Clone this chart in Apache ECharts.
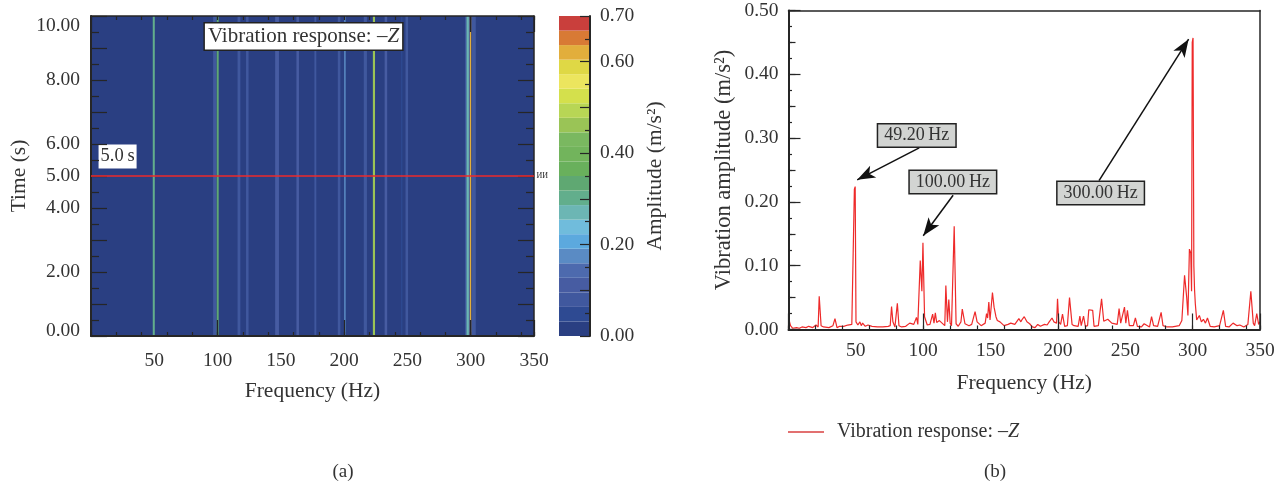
<!DOCTYPE html>
<html><head><meta charset="utf-8">
<style>html,body{margin:0;padding:0;background:#fff}#c{width:1287px;height:482px}</style>
<script src="https://cdn.jsdelivr.net/npm/echarts@6/dist/echarts.min.js"></script>
</head><body><div id="c"></div>
<script>
// ---- data ----
const bandColors = ['#2a3f82','#2e4a92','#40589e','#475ca2','#4d6aae','#5a8bc4','#5ca9de','#70bcdc','#6cb6b4','#62ae8c','#5fa872','#69b05c','#72b45c','#7ab860','#9ac456','#b8d655','#d4e04c','#ece55e','#dfd845','#e2ae3c','#d87a35','#c93f3c'];
const ampMax = 0.7;
const stripeLow  = [0,48.8,96.5,99.3,115.8,122.5,145.5,162.3,176.5,195,200,215.5,222.7,232,245,248.5,295.5,296.6,298.6,299.3,301];
const stripeHigh = [350,50.4,99,100.9,118,124.5,148.5,164.3,178,197,201.2,218,224.4,234,246,250.5,296.5,298.6,299.3,300.4,304];
const stripeAmp  = [0.01,0.3,0.085,0.33,0.08,0.08,0.1,0.1,0.07,0.07,0.17,0.07,0.47,0.1,0.05,0.09,0.09,0.26,0.1,0.62,0.09];
const cursorTime = 5;
const spectrumPoints = [[0,0.003],[0.4,0.015],[1.5,0.006],[3,0.002],[6,0.003],[8,0.002],[10,0.004],[13,0.003],[15,0.005],[18,0.003],[20.4,0.007],[22,0.004],[22.8,0.052],[23.4,0.05],[24.2,0.006],[26,0.004],[30,0.003],[33,0.006],[34.5,0.017],[36,0.003],[38,0.005],[41,0.005],[44,0.007],[47,0.008],[48.4,0.01],[48.9,0.22],[49.5,0.224],[50.1,0.012],[51.5,0.007],[53,0.012],[54,0.006],[55,0.01],[57,0.005],[59,0.007],[60,0.004],[62,0.005],[66,0.004],[70,0.004],[74,0.005],[75.5,0.006],[76.5,0.036],[77.5,0.012],[79,0.004],[80.8,0.041],[81.3,0.04],[82,0.006],[84,0.004],[87,0.005],[90,0.01],[93,0.008],[95,0.019],[96,0.008],[97,0.005],[97.8,0.108],[98.4,0.106],[99,0.06],[99.8,0.136],[100.2,0.134],[101,0.02],[103,0.007],[105,0.008],[107,0.024],[108,0.01],[109,0.026],[110,0.011],[112,0.014],[114,0.01],[116,0.006],[116.8,0.069],[117.3,0.066],[118,0.012],[119,0.047],[120,0.01],[121,0.006],[122.4,0.008],[123,0.162],[123.6,0.16],[124.4,0.009],[126,0.005],[128,0.012],[129,0.032],[131,0.009],[134,0.006],[136,0.008],[138.5,0.028],[140,0.012],[143,0.006],[146,0.01],[147,0.025],[147.8,0.018],[148.7,0.043],[149.6,0.015],[151.4,0.058],[152.6,0.035],[154,0.02],[155,0.014],[157,0.012],[160,0.006],[163,0.008],[165,0.01],[168,0.008],[171,0.017],[172.5,0.012],[173.5,0.016],[175,0.02],[177,0.012],[179,0.009],[181,0.004],[183,0.003],[185,0.008],[187,0.005],[190,0.008],[192,0.007],[193.5,0.012],[195.6,0.018],[197,0.012],[199,0.01],[199.7,0.048],[200.6,0.012],[202,0.008],[203.4,0.024],[205,0.005],[207,0.006],[208.6,0.05],[209.4,0.053],[210.5,0.008],[212,0.006],[215,0.005],[216.3,0.021],[217.3,0.006],[219,0.021],[220.4,0.005],[222,0.006],[222.9,0.031],[225.8,0.03],[226.8,0.005],[230,0.006],[232.4,0.048],[234,0.013],[237,0.016],[240,0.01],[244,0.008],[245.4,0.033],[246.6,0.01],[248,0.009],[249.4,0.035],[250.4,0.01],[251.6,0.03],[253,0.006],[256,0.006],[257.5,0.018],[259,0.005],[262,0.004],[264,0.009],[268,0.004],[269.5,0.02],[271,0.006],[274,0.005],[276.6,0.027],[278,0.006],[281,0.004],[285,0.004],[290,0.006],[292,0.014],[294,0.085],[295.6,0.05],[296.5,0.022],[297.6,0.126],[298.6,0.12],[299.2,0.06],[299.7,0.45],[300.3,0.457],[300.9,0.1],[301.4,0.063],[302,0.04],[303,0.015],[305,0.022],[306.5,0.012],[308,0.016],[309.5,0.01],[311,0.018],[313,0.005],[316,0.004],[320,0.006],[322.8,0.03],[323.6,0.03],[324.5,0.005],[327,0.004],[330,0.01],[333,0.006],[335,0.007],[338,0.004],[341,0.008],[343.2,0.06],[343.9,0.058],[345,0.01],[346,0.006],[347.6,0.025],[349,0.008],[350,0.012]];
const callText = ['49.20\u2009Hz','100.00\u2009Hz','300.00\u2009Hz'];
const callBox  = [[95.2,0.304],[122,0.231],[231.7,0.2138]];
const callFrom = [[97,0.2848],[122.2,0.2104],[230.5,0.2335]];
const callTip  = [[51,0.2346],[100,0.147],[297,0.455]];
const timeTicks = [0,2,4,5,6,8,10];
const ampTicks = [0,0.2,0.4,0.6,0.7];

// ---- presentation ----
const serif = 'Liberation Serif', ink = '#333333', tickC = '#262626';
const off = {show:false,onZero:false};
const base = {type:'value', z:10, axisLine:off, axisTick:{show:false}, axisLabel:{show:false}, splitLine:{show:false}};
const mk = (o)=>Object.assign({}, base, o);
const line = (w)=>({show:true,onZero:false,lineStyle:{color:tickC,width:w}});
const tick = (len,w)=>({show:true,inside:true,length:len,lineStyle:{color:tickC,width:w||1.2}});
const minor = (n,len)=>({show:true,splitNumber:n,length:len,lineStyle:{color:tickC,width:1.2}});
const lab = (o)=>Object.assign({show:true,color:ink,fontFamily:serif,fontSize:19.5},o);
const nm = {color:ink,fontFamily:serif,fontSize:21.5};
const xTicksLabel = (margin,name,gap)=>mk({min:0,max:350,interval:50,position:'bottom',
  axisLabel:lab({margin,formatter:v=>(v>0?String(v):'')}),name,nameLocation:'middle',nameGap:gap,nameTextStyle:nm});

function bandColor(a){return bandColors[Math.min(bandColors.length-1,Math.floor(a/ampMax*bandColors.length))];}
function rectItem(x0,y0,x1,y1,api,fill){
  const a=api.coord([x0,y0]), b=api.coord([x1,y1]);
  return {type:'rect',shape:{x:a[0],y:b[1],width:b[0]-a[0],height:a[1]-b[1]},style:{fill}};
}
const heatData = stripeLow.map((l,i)=>[l,stripeHigh[i],stripeAmp[i]]);
const barData = bandColors.map((c,i)=>[i*ampMax/bandColors.length,(i+1)*ampMax/bandColors.length,i]);
const boxLabel = (fs,bg,bw,pad,o)=>Object.assign({show:true,position:'inside',color:ink,fontFamily:serif,fontSize:fs,backgroundColor:bg,borderColor:bw?'#222':'transparent',borderWidth:bw,padding:pad},o);

const option = {
  animation:false, backgroundColor:'#fff',
  title:[
    {text:'(a)',left:338,top:458,textAlign:'center',textStyle:{color:ink,fontFamily:serif,fontSize:19,fontWeight:'normal'}},
    {text:'(b)',left:990,top:458,textAlign:'center',textStyle:{color:ink,fontFamily:serif,fontSize:19,fontWeight:'normal'}}
  ],
  legend:{left:783,top:417,itemWidth:36,itemHeight:1.5,itemGap:8,icon:'rect',data:['Vibration response: \u2013Z'],
    formatter:()=>'{r|Vibration response: \u2013}{z|Z}',
    textStyle:{rich:{r:{color:ink,fontFamily:serif,fontSize:20,padding:[0,0,0,8]},z:{color:ink,fontFamily:serif,fontSize:20,fontStyle:'italic'}}}},
  grid:[
    {left:91,top:16,width:443,height:320},
    {left:559,top:16,width:31,height:320},
    {left:788.5,top:10.5,width:471.5,height:319}
  ],
  xAxis:[
    // heat map (grid 0)
    xTicksLabel(15,'Frequency (Hz)',44),
    mk({gridIndex:0,min:0,max:350,interval:20,position:'bottom',axisLine:line(2),axisTick:tick(4)}),
    mk({gridIndex:0,min:0,max:350,interval:100,position:'bottom',axisTick:tick(16)}),
    mk({gridIndex:0,min:0,max:350,interval:20,position:'top',axisLine:line(1.5),axisTick:tick(4)}),
    mk({gridIndex:0,min:0,max:350,interval:300,position:'top',axisTick:tick(16)}),
    // colour bar (grid 1)
    mk({gridIndex:1,min:0,max:1,position:'bottom'}),
    // spectrum (grid 2)
    Object.assign(xTicksLabel(11,'Frequency (Hz)',43),{gridIndex:2}),
    mk({gridIndex:2,min:0,max:350,interval:20,position:'bottom',axisLine:line(2),axisTick:tick(4)}),
    mk({gridIndex:2,min:0,max:350,interval:100,position:'bottom',axisTick:tick(16)}),
    mk({gridIndex:2,min:0,max:350,position:'top',axisLine:line(1.5)})
  ],
  yAxis:[
    mk({gridIndex:0,min:0,max:10,interval:1,position:'left',axisLine:line(2),axisTick:tick(16),minorTick:minor(2,8),
      axisLabel:lab({margin:11,verticalAlignMaxLabel:'top',formatter:v=>timeTicks.includes(v)?(v===0?'{z|0.00}':v.toFixed(2)):'',
        rich:{z:{color:ink,fontFamily:serif,fontSize:19.5,padding:[0,0,10,0]}}}),
      name:'Time (s)',nameLocation:'middle',nameGap:61,nameTextStyle:nm}),
    mk({gridIndex:0,min:0,max:10,interval:1,position:'right',axisLine:line(1.5),axisTick:tick(16),minorTick:minor(2,8)}),
    mk({gridIndex:1,min:0,max:ampMax,interval:0.1,position:'right',axisLine:line(2),axisTick:tick(10),minorTick:minor(2,5),
      axisLabel:lab({margin:10,formatter:v=>ampTicks.some(t=>Math.abs(t-v)<1e-6)?v.toFixed(2):''}),
      name:'Amplitude (m/s\u00b2)',nameLocation:'middle',nameGap:76,nameTextStyle:Object.assign({},nm,{verticalAlign:'bottom'})}),
    mk({gridIndex:2,min:0,max:0.5,interval:0.1,position:'left',axisLine:line(2),axisTick:tick(12),minorTick:minor(4,3.5),
      axisLabel:lab({margin:10,formatter:v=>v.toFixed(2)}),
      name:'Vibration amplitude (m/s\u00b2)',nameLocation:'middle',nameGap:53,nameTextStyle:Object.assign({},nm,{fontSize:22.5})}),
    mk({gridIndex:2,min:0,max:0.5,interval:0.05,position:'left',axisTick:tick(7)}),
    mk({gridIndex:2,min:0,max:0.5,position:'right',axisLine:line(1.5)})
  ],
  series:[
    {type:'custom',name:'heat',xAxisIndex:0,yAxisIndex:0,data:heatData,encode:{x:[0,1],y:2},silent:true,
      renderItem:(p,api)=>rectItem(api.value(0),0,api.value(1),10,api,bandColor(api.value(2)))},
    {type:'line',name:'cursor',xAxisIndex:0,yAxisIndex:0,z:20,data:[[0,cursorTime],[350,cursorTime]],symbol:'none',silent:true,
      lineStyle:{color:'#ee2a2a',width:1.5},
      markPoint:{symbol:'circle',symbolSize:1,itemStyle:{color:'rgba(0,0,0,0)'},silent:true,data:[
        {coord:[167.9,9.36],label:boxLabel(21,'#fff',1.5,[3,3,2,3],{formatter:'{r|Vibration response: \u2013}{z|Z}',rich:{r:{fontFamily:serif,fontSize:21,color:ink},z:{fontFamily:serif,fontSize:21,color:ink,fontStyle:'italic'}}})},
        {coord:[21,5.61],label:boxLabel(18.5,'#fff',0,[3,2,2,2],{formatter:cursorTime.toFixed(1)+'\u2009s'})},
        {coord:[350,5],label:{show:true,position:'right',distance:2,formatter:'\u0418\u0418',fontSize:8,color:'#222',fontFamily:serif}}
      ]}},
    {type:'custom',name:'bar',xAxisIndex:5,yAxisIndex:2,data:barData,encode:{y:[0,1]},silent:true,
      renderItem:(p,api)=>rectItem(0,api.value(0),1,api.value(1),api,bandColors[api.value(2)])},
    {type:'line',name:'Vibration response: \u2013Z',xAxisIndex:6,yAxisIndex:3,data:spectrumPoints,symbol:'none',z:5,silent:true,
      itemStyle:{color:'#d94040'},lineStyle:{color:'#ee2a2a',width:1.2},
      markLine:{silent:true,symbol:['none','arrow'],symbolSize:[10,18],animation:false,label:{show:false},
        lineStyle:{color:'#111',width:1.5,type:'solid'},
        data:callTip.map((t,i)=>[{coord:callFrom[i]},{coord:t}])},
      markPoint:{symbol:'circle',symbolSize:1,itemStyle:{color:'rgba(0,0,0,0)'},silent:true,
        data:callBox.map((c,i)=>({coord:c,label:boxLabel(18,'#d2d4d2',1.5,[2,6,2,6],{formatter:callText[i]})}))}}
  ]
};
const chart = echarts.init(document.getElementById('c'),null,{renderer:'canvas'});
chart.setOption(option);
</script></body></html>
